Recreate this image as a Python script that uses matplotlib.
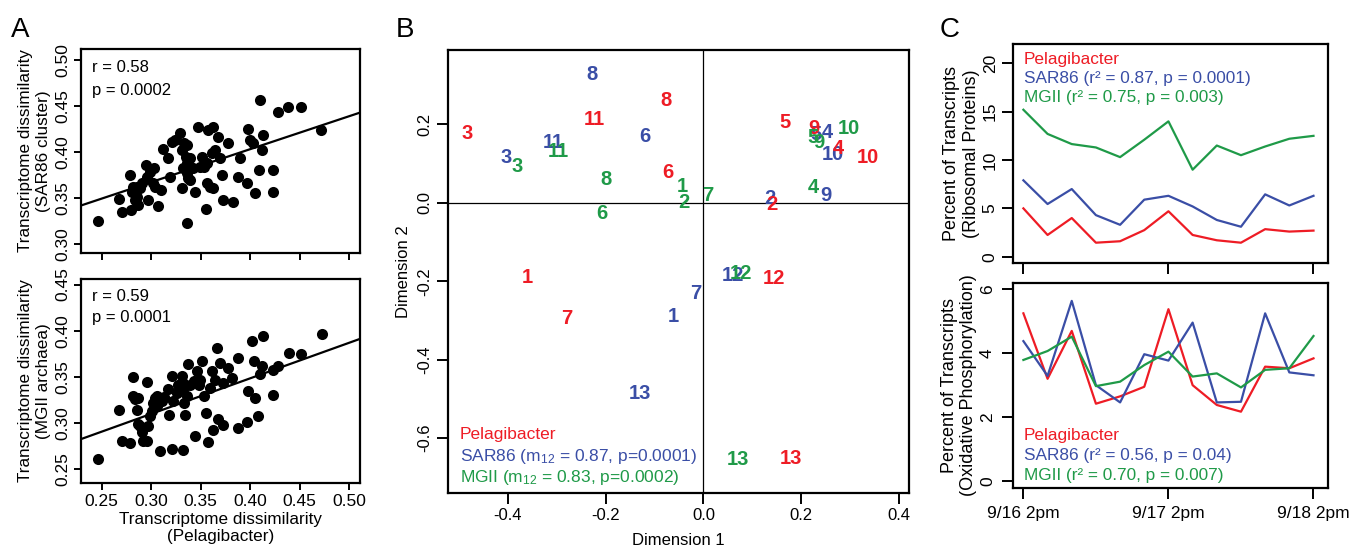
import numpy as np
import matplotlib
matplotlib.use("Agg")
import matplotlib.pyplot as plt

plt.rcParams['font.family'] = ['Liberation Sans', 'DejaVu Sans']
plt.rcParams['mathtext.fontset'] = 'custom'
plt.rcParams['mathtext.rm'] = 'Liberation Sans'
plt.rcParams['mathtext.it'] = 'Liberation Sans:italic'

RED = '#ee1c25'
BLUE = '#3a4ea6'
GREEN = '#1f9a48'

# ---- panel A: pairwise transcriptome dissimilarities ----
pel_top = [0.2466, 0.2678, 0.2702, 0.2786, 0.2793, 0.2803, 0.2820, 0.2836, 0.2853, 0.2870,
           0.2887, 0.2904, 0.2944, 0.2954, 0.2971, 0.2988, 0.3028, 0.3038, 0.3072, 0.3099,
           0.3122, 0.3173, 0.3190, 0.3207, 0.3240, 0.3291, 0.3308, 0.3318, 0.3308, 0.3331,
           0.3351, 0.3358, 0.3365, 0.3375, 0.3392, 0.3419, 0.3442, 0.3358, 0.3476, 0.3493,
           0.3509, 0.3533, 0.3550, 0.3560, 0.3577, 0.3594, 0.3610, 0.3620, 0.3644, 0.3678,
           0.3694, 0.3711, 0.3728, 0.3779, 0.3829, 0.3896, 0.3880, 0.3964, 0.3980, 0.3997,
           0.4031, 0.4048, 0.4098, 0.4092, 0.4115, 0.4132, 0.4283, 0.4384, 0.4509, 0.4226,
           0.4233, 0.4714, 0.3358, 0.3560, 0.3022, 0.2853, 0.3392, 0.3627]
sar86 = [0.3243, 0.3486, 0.3344, 0.3750, 0.3370, 0.3569, 0.3623, 0.3478, 0.3514, 0.3424,
         0.3605, 0.3659, 0.3859, 0.3732, 0.3478, 0.3786, 0.3822, 0.3623, 0.3413, 0.3587,
         0.4029, 0.3931, 0.3732, 0.4112, 0.4130, 0.4203, 0.4022, 0.3822, 0.3605, 0.4094,
         0.3949, 0.3877, 0.3768, 0.3714, 0.3931, 0.3822, 0.3569, 0.3225, 0.4268, 0.3841,
         0.3949, 0.3841, 0.3377, 0.3659, 0.4239, 0.3623, 0.3986, 0.4268, 0.4022, 0.4167,
         0.3931, 0.3750, 0.3478, 0.4094, 0.3460, 0.3931, 0.3732, 0.3659, 0.4246, 0.4130,
         0.4094, 0.3551, 0.4565, 0.3804, 0.4022, 0.4185, 0.4438, 0.4493, 0.4486, 0.3804,
         0.3569, 0.4239, 0.4076, 0.3877, 0.3659, 0.3623, 0.3696, 0.3605]

pel_bot = [0.2466, 0.2678, 0.2702, 0.2786, 0.2820, 0.2813, 0.2836, 0.2870, 0.2853, 0.2870,
           0.2887, 0.2904, 0.2921, 0.2954, 0.2954, 0.2971, 0.2988, 0.3005, 0.3022, 0.3038,
           0.3062, 0.3089, 0.3106, 0.3129, 0.3173, 0.3180, 0.3207, 0.3207, 0.3223, 0.3257,
           0.3308, 0.3318, 0.3324, 0.3331, 0.3341, 0.3324, 0.3358, 0.3375, 0.3392, 0.3442,
           0.3459, 0.3486, 0.3509, 0.3533, 0.3553, 0.3570, 0.3594, 0.3610, 0.3620, 0.3644,
           0.3661, 0.3678, 0.3694, 0.3721, 0.3728, 0.3779, 0.3812, 0.3880, 0.3880, 0.3964,
           0.3980, 0.4014, 0.4038, 0.4048, 0.4081, 0.4098, 0.4115, 0.4132, 0.4226, 0.4233,
           0.4283, 0.4394, 0.4509, 0.4721, 0.3055, 0.3274, 0.3435, 0.3493]
mgii = [0.2612, 0.3144, 0.2800, 0.2782, 0.3498, 0.3296, 0.3259, 0.3270, 0.3144, 0.2988,
        0.2963, 0.2898, 0.2800, 0.3444, 0.2800, 0.2963, 0.3071, 0.3126, 0.3216, 0.3270,
        0.3288, 0.2692, 0.3234, 0.3281, 0.3372, 0.3082, 0.3513, 0.2721, 0.3234, 0.3325,
        0.3505, 0.3433, 0.3368, 0.3216, 0.3090, 0.2710, 0.3296, 0.3639, 0.3415, 0.2854,
        0.3560, 0.3415, 0.3668, 0.3296, 0.3108, 0.2793, 0.3379, 0.3560, 0.2927, 0.3469,
        0.3813, 0.3042, 0.3650, 0.2981, 0.3433, 0.3596, 0.3487, 0.3704, 0.2945, 0.3006,
        0.3343, 0.3892, 0.3668, 0.3270, 0.3071, 0.3534, 0.3614, 0.3939, 0.3578, 0.3307,
        0.3614, 0.3759, 0.3751, 0.3968, 0.3180, 0.3415, 0.3451, 0.3469]

# regression lines (slope, intercept)
fit_sar86 = (0.3585, 0.2596)
fit_mgii = (0.385, 0.1944)

# ---- panel B: MDS coordinates of samples 1..13 ----
samples = [str(i) for i in range(1, 14)]
pel_d1 = [-0.360, 0.140, -0.483, 0.276, 0.166, -0.072, -0.280, -0.076, 0.225, 0.336, -0.223, 0.143, 0.178]
pel_d2 = [-0.190, -0.005, 0.178, 0.140, 0.204, 0.077, -0.296, 0.260, 0.190, 0.117, 0.212, -0.192, -0.651]
sar_d1 = [-0.061, 0.135, -0.403, 0.254, 0.229, -0.119, -0.016, -0.227, 0.250, 0.264, -0.307, 0.061, -0.129]
sar_d2 = [-0.291, 0.010, 0.115, 0.180, 0.174, 0.169, -0.230, 0.327, 0.020, 0.123, 0.153, -0.184, -0.485]
mg_d1 = [-0.043, -0.041, -0.381, 0.225, 0.223, -0.207, 0.008, -0.199, 0.235, 0.297, -0.297, 0.076, 0.070]
mg_d2 = [0.041, 0.000, 0.092, 0.038, 0.166, -0.026, 0.018, 0.059, 0.153, 0.190, 0.130, -0.180, -0.654]

# ---- panel C: time series (13 samples, 4 h apart) ----
time_idx = list(range(13))
time_ticks = [0, 6, 12]
time_labels = ['9/16 2pm', '9/17 2pm', '9/18 2pm']
ribo_pel = [5.0, 2.25, 4.0, 1.45, 1.6, 2.75, 4.7, 2.25, 1.7, 1.45, 2.85, 2.6, 2.7]
ribo_sar = [7.9, 5.45, 7.0, 4.3, 3.3, 5.9, 6.3, 5.2, 3.8, 3.1, 6.45, 5.3, 6.3]
ribo_mg = [15.2, 12.7, 11.65, 11.3, 10.3, 12.1, 14.0, 9.0, 11.5, 10.5, 11.4, 12.2, 12.5]
ox_pel = [5.25, 3.2, 4.7, 2.42, 2.65, 2.95, 5.38, 3.0, 2.38, 2.17, 3.58, 3.53, 3.84]
ox_sar = [4.38, 3.29, 5.64, 3.0, 2.46, 3.97, 3.77, 4.96, 2.46, 2.48, 5.25, 3.4, 3.31]
ox_mg = [3.79, 4.07, 4.52, 2.97, 3.11, 3.63, 4.05, 3.27, 3.37, 2.93, 3.48, 3.53, 4.54]

W, H = 1350, 552
fig = plt.figure(figsize=(W / 100, H / 100), dpi=100)


def px_axes(left, top, right, bottom):
    return fig.add_axes([left / W, 1 - bottom / H, (right - left) / W, (bottom - top) / H])


def r_style(ax, ticklen=5, lw=1.6, size=12.5, pad=3):
    for s in ax.spines.values():
        s.set_linewidth(lw)
    ax.tick_params(direction='out', length=ticklen, width=1.4, labelsize=size, pad=pad)
    for lab in ax.get_yticklabels():
        lab.set_rotation(90)
        lab.set_va('center')


# panel A top
axA1 = px_axes(81, 49, 360, 253)
axA1.plot(pel_top, sar86, 'o', color='black', ms=8, mec='none')
xx = np.array([0.2, 0.55])
axA1.plot(xx, fit_sar86[0] * xx + fit_sar86[1], color='black', lw=1.6)
axA1.set_xlim(0.229, 0.511)
axA1.set_ylim(0.290, 0.512)
axA1.set_xticks(np.arange(0.25, 0.51, 0.05))
axA1.set_xticklabels([])
axA1.set_yticks(np.arange(0.30, 0.51, 0.05))
axA1.set_yticklabels(['%.2f' % v for v in np.arange(0.30, 0.51, 0.05)])
r_style(axA1)
axA1.set_ylabel('Transcriptome dissimilarity\n(SAR86 cluster)', fontsize=12.3, labelpad=3)
axA1.text(0.039, 0.907, 'r = 0.58', transform=axA1.transAxes, va='center', ha='left', fontsize=12)
axA1.text(0.039, 0.799, 'p = 0.0002', transform=axA1.transAxes, va='center', ha='left', fontsize=12)

# panel A bottom
axA2 = px_axes(81, 279, 360, 483)
axA2.plot(pel_bot, mgii, 'o', color='black', ms=8, mec='none')
axA2.plot(xx, fit_mgii[0] * xx + fit_mgii[1], color='black', lw=1.6)
axA2.set_xlim(0.229, 0.511)
axA2.set_ylim(0.235, 0.456)
axA2.set_xticks(np.arange(0.25, 0.51, 0.05))
axA2.set_xticklabels(['%.2f' % v for v in np.arange(0.25, 0.51, 0.05)])
axA2.set_yticks(np.arange(0.25, 0.46, 0.05))
axA2.set_yticklabels(['%.2f' % v for v in np.arange(0.25, 0.46, 0.05)])
r_style(axA2)
axA2.set_ylabel('Transcriptome dissimilarity\n(MGII archaea)', fontsize=12.3, labelpad=3)
axA2.set_xlabel('Transcriptome dissimilarity\n(Pelagibacter)', fontsize=12.3, labelpad=2)
axA2.text(0.039, 0.915, 'r = 0.59', transform=axA2.transAxes, va='center', ha='left', fontsize=12)
axA2.text(0.039, 0.809, 'p = 0.0001', transform=axA2.transAxes, va='center', ha='left', fontsize=12)

# panel B
axB = px_axes(448, 50, 909, 493)
axB.axhline(0, color='black', lw=0.9)
axB.axvline(0, color='black', lw=0.9)
for d1, d2, col in [(sar_d1, sar_d2, BLUE), (pel_d1, pel_d2, RED), (mg_d1, mg_d2, GREEN)]:
    for lab, x, y in zip(samples, d1, d2):
        axB.text(x, y, lab, color=col, fontsize=14.5, fontweight='bold', ha='center', va='center')
axB.set_xlim(-0.522, 0.42)
axB.set_ylim(-0.74, 0.39)
axB.set_xticks([-0.4, -0.2, 0.0, 0.2, 0.4])
axB.set_xticklabels(['-0.4', '-0.2', '0.0', '0.2', '0.4'])
axB.set_yticks([-0.6, -0.4, -0.2, 0.0, 0.2])
axB.set_yticklabels(['-0.6', '-0.4', '-0.2', '0.0', '0.2'])
r_style(axB, ticklen=8, size=12)
axB.set_xlabel('Dimension 1', fontsize=12, labelpad=7)
axB.set_ylabel('Dimension 2', fontsize=12, labelpad=5)
legB = [('Pelagibacter', RED),
        ('SAR86 (m$_{12}$ = 0.87, p=0.0001)', BLUE),
        ('MGII (m$_{12}$ = 0.83, p=0.0002)', GREEN)]
for i, (txt, col) in enumerate(legB):
    axB.text(0.025, 0.131 - i * 0.048, txt, color=col, fontsize=12.5, transform=axB.transAxes,
             ha='left', va='center')

# panel C top
axC1 = px_axes(1013, 44, 1328, 263)
axC1.plot(time_idx, ribo_pel, color=RED, lw=1.6)
axC1.plot(time_idx, ribo_sar, color=BLUE, lw=1.6)
axC1.plot(time_idx, ribo_mg, color=GREEN, lw=1.6)
axC1.set_xlim(-0.43, 12.6)
axC1.set_ylim(-0.65, 22.0)
axC1.set_xticks(time_ticks)
axC1.set_xticklabels([])
axC1.set_yticks([0, 5, 10, 15, 20])
axC1.set_yticklabels(['0', '5', '10', '15', '20'])
r_style(axC1, ticklen=8)
axC1.set_ylabel('Percent of Transcripts\n(Ribosomal Proteins)', fontsize=13, labelpad=2)
legC1 = [('Pelagibacter', RED),
         ('SAR86 (r\u00b2 = 0.87, p = 0.0001)', BLUE),
         ('MGII (r\u00b2 = 0.75, p = 0.003)', GREEN)]
for i, (txt, col) in enumerate(legC1):
    axC1.text(0.035, 0.93 - i * 0.088, txt, color=col, fontsize=12.4, transform=axC1.transAxes,
              ha='left', va='center')

# panel C bottom
axC2 = px_axes(1013, 283, 1328, 488)
axC2.plot(time_idx, ox_pel, color=RED, lw=1.6)
axC2.plot(time_idx, ox_sar, color=BLUE, lw=1.6)
axC2.plot(time_idx, ox_mg, color=GREEN, lw=1.6)
axC2.set_xlim(-0.43, 12.6)
axC2.set_ylim(-0.22, 6.2)
axC2.set_xticks(time_ticks)
axC2.set_xticklabels(time_labels)
axC2.set_yticks([0, 2, 4, 6])
axC2.set_yticklabels(['0', '2', '4', '6'])
r_style(axC2, ticklen=8, pad=5)
axC2.set_ylabel('Percent of Transcripts\n(Oxidative Phosphorylation)', fontsize=13, labelpad=2)
legC2 = [('Pelagibacter', RED),
         ('SAR86 (r\u00b2 = 0.56, p = 0.04)', BLUE),
         ('MGII (r\u00b2 = 0.70, p = 0.007)', GREEN)]
for i, (txt, col) in enumerate(legC2):
    axC2.text(0.035, 0.2585 - i * 0.098, txt, color=col, fontsize=12.4, transform=axC2.transAxes,
              ha='left', va='center')

# panel letters
fig.text(11 / W, 1 - 17 / H, 'A', fontsize=20, va='top', ha='left')
fig.text(396 / W, 1 - 17 / H, 'B', fontsize=20, va='top', ha='left')
fig.text(940 / W, 1 - 17 / H, 'C', fontsize=20, va='top', ha='left')

fig.savefig('out.png', dpi=100)
